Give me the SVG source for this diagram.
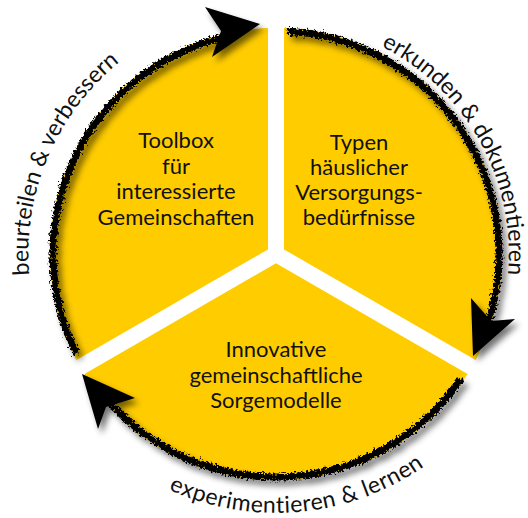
<svg xmlns="http://www.w3.org/2000/svg" width="528" height="518" viewBox="0 0 528 518">
<style>
.sector{fill:#FFCC00;}
.label{font-family:Lato,"Open Sans","Liberation Sans",sans-serif;font-size:22px;fill:#111;text-anchor:middle;}
.cap{font-family:Lato,"Open Sans","Liberation Sans",sans-serif;font-size:23px;fill:#111;text-anchor:middle;}
.ring{fill:none;stroke:#000;stroke-width:7;}
.head{fill:#000;}
</style>
<defs>
<filter id="rough" filterUnits="userSpaceOnUse" x="0" y="0" width="528" height="518">
<feTurbulence type="fractalNoise" baseFrequency="0.45" numOctaves="3" seed="7" result="n"/>
<feDisplacementMap in="SourceGraphic" in2="n" scale="8" xChannelSelector="R" yChannelSelector="G"/>
</filter>
<filter id="shadow" filterUnits="userSpaceOnUse" x="0" y="0" width="528" height="518">
<feGaussianBlur in="SourceAlpha" stdDeviation="3"/>
<feOffset dx="4" dy="5"/>
<feComponentTransfer><feFuncA type="linear" slope="0.55"/></feComponentTransfer>
<feMerge><feMergeNode/><feMergeNode in="SourceGraphic"/></feMerge>
</filter>
<path id="pLeft" d="M 171.6 477.9 A 247 247 0 0 1 364.5 23.4"/>
<path id="pRight" d="M 170.2 46.4 A 233 233 0 0 1 396 453.7"/>
<path id="pBottom" d="M 19.1 286.7 A 259 259 0 0 0 534.6 239.3"/>
</defs>
<rect width="528" height="518" fill="#fff"/>

<g id="toolbox">
<path class="sector" d="M 268 249.4 L 76.4 360 A 226 226 0 0 1 268 28.1 Z"/>
<text class="label" x="176" y="148">Toolbox</text>
<text class="label" x="176" y="173.5">für</text>
<text class="label" x="176" y="199">interessierte</text>
<text class="label" x="176" y="224.5">Gemeinschaften</text>
</g>

<g id="typen">
<path class="sector" d="M 284 249.4 L 284 28.1 A 226 226 0 0 1 475.6 360 Z"/>
<text class="label" x="359" y="150">Typen</text>
<text class="label" x="359" y="175">häuslicher</text>
<text class="label" x="359" y="200">Versorgungs-</text>
<text class="label" x="359" y="225">bedürfnisse</text>
</g>

<g id="sorgemodelle">
<path class="sector" d="M 276 263.2 L 467.6 373.9 A 226 226 0 0 1 84.4 373.9 Z"/>
<text class="label" x="276" y="357">Innovative</text>
<text class="label" x="276" y="382.5">gemeinschaftliche</text>
<text class="label" x="276" y="408">Sorgemodelle</text>
</g>

<g id="connectors">
<g filter="url(#shadow)">
<g filter="url(#rough)">
<path class="ring" d="M 76.4 353.5 A 223 223 0 0 1 229.6 35.9"/>
<path class="ring" d="M 287.7 31.3 A 223 223 0 0 1 487.5 324.7"/>
<path class="ring" d="M 460.9 378.7 A 223 223 0 0 1 109 401.8"/>
</g>
<polygon class="head" points="260,24 205,7 221,31 212,57"/>
<polygon class="head" points="473,356 471,298 491,321 515,319"/>
<polygon class="head" points="82,374 135,398 106,407 98,429"/>
</g>
<text class="cap"><textPath href="#pLeft" startOffset="50%">beurteilen &amp; verbessern</textPath></text>
<text class="cap"><textPath href="#pRight" startOffset="50%">erkunden &amp; dokumentieren</textPath></text>
<text class="cap" letter-spacing="0.5"><textPath href="#pBottom" startOffset="50%">experimentieren &amp; lernen</textPath></text>
</g>
</svg>
